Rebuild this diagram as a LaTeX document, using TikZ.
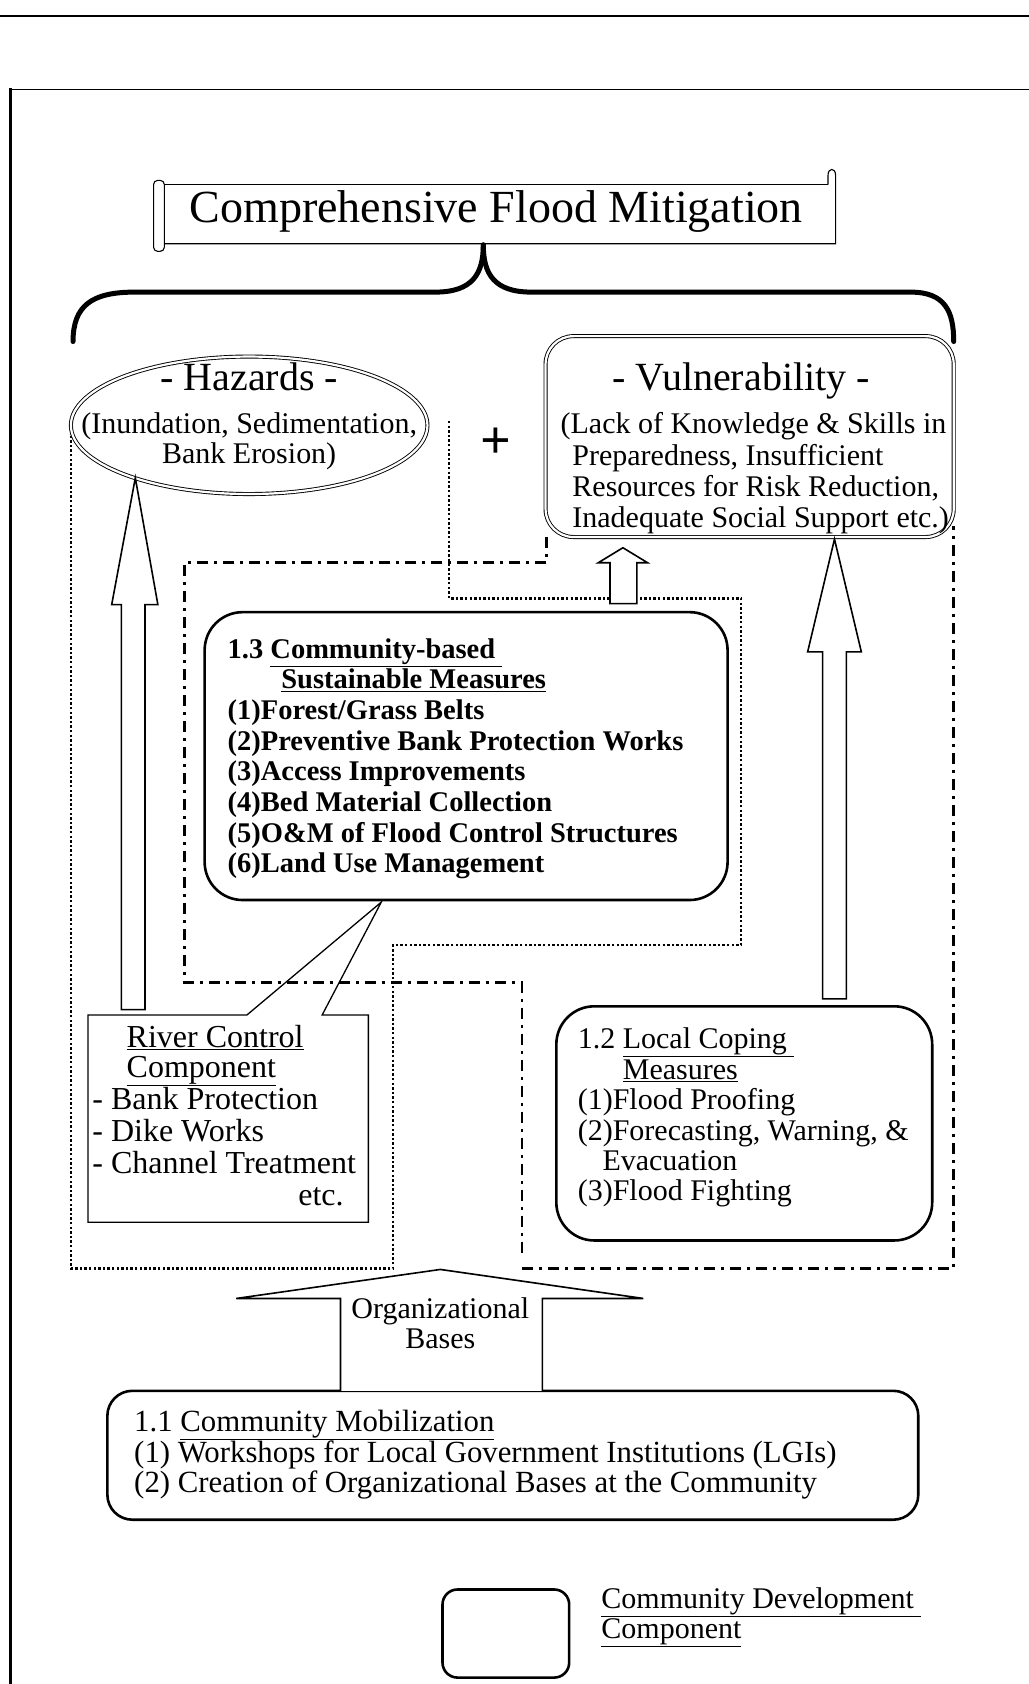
\documentclass[tikz,border=0pt]{standalone}
\usepackage{fontspec}
\setmainfont{Liberation Serif}
\usetikzlibrary{shapes.geometric}
\begin{document}
\begin{tikzpicture}[x=1.0741pt, y=-1.0741pt,
  every node/.style={inner sep=0pt, outer sep=0pt},
  body/.style={font=\fontsize{30}{32}\selectfont, text height=21pt, text depth=6pt},
  lft/.style={body, anchor=west},
  cen/.style={body, anchor=center},
  wide/.style={font=\fontsize{30.8}{32}\selectfont, text height=21pt, text depth=6pt, anchor=west},
  bld/.style={font=\fontsize{28.5}{30}\selectfont\bfseries, text height=20pt, text depth=6pt, anchor=west},
  river/.style={font=\fontsize{32}{34}\selectfont, text height=22pt, text depth=7pt, anchor=west},
  head/.style={font=\fontsize{40}{42}\selectfont, text height=28pt, text depth=8pt, anchor=center},
  thickbox/.style={draw, line width=2.6pt, rounded corners=38pt},
  dblline/.style={draw, double, double distance=2.2pt, line width=0.9pt},
  hollow/.style={draw, line width=1.6pt, fill=white, line join=miter},
  dotreg/.style={line width=2.6pt, dash pattern=on 2.4pt off 2.2pt},
  dashreg/.style={line width=2.7pt, dash pattern=on 11pt off 6pt on 3pt off 6pt},
  bracestroke/.style={line width=5pt, line cap=round},
]
\useasboundingbox (0,0) rectangle (958,1568);

% page frame
\draw[line width=2.5pt] (0,15) -- (958,15);
\draw[line width=1.2pt] (8,83) -- (958,83);
\draw[line width=2.8pt] (10,82) -- (10,1568);

% title scroll
\node (title) [font=\fontsize{46}{48}\selectfont] at (462,197) {Comprehensive Flood Mitigation};
\draw[line width=1.1pt] (153,172) -- (771,172);
\draw[line width=1.1pt] (153,227) -- (778,227) -- (778,163) .. controls (778,156) and (771,156) .. (771,163) -- (771,172);
\draw[line width=1.1pt, rounded corners=4pt] (143,168) rectangle (153,234);

% brace under the title
\coordinate (bl) at (68,318);
\coordinate (bm) at (450,228);
\coordinate (br) at (888,318);
\draw[bracestroke] (bl) .. controls (68,285) and (85,272) .. (125,272) -- (405,272) .. controls (440,272) and (450,255) .. (bm);
\draw[bracestroke] (bm) .. controls (450,255) and (460,272) .. (495,272) -- (848,272) .. controls (880,272) and (888,290) .. (br);

% region outlines
\draw[dotreg] (418,392) -- (418,557) -- (690,557) -- (690,880) -- (366,880) -- (366,1181) -- (66,1181) -- (66,398);
\draw[dashreg] (509,500) -- (509,524) -- (172,524) -- (172,915) -- (486,915) -- (486,1168);
\draw[dashreg] (486,1181) -- (888,1181) -- (888,490);

% hazards
\node (haz) [dblline, ellipse, minimum width=356.6pt, minimum height=137.5pt] at (232,396) {};
\node (hazh) [head] at (232,354) {- Hazards -};
\node (haz1) [cen] at (232,397) {(Inundation, Sedimentation,};
\node (haz2) [cen] at (232,425) {Bank Erosion)};

\node (plus) [font=\fontsize{54}{54}\selectfont\bfseries] at (462,413) {+};

% vulnerability
\node (vul) [dblline, rounded corners=28pt, minimum width=408.2pt, minimum height=200.9pt] at (698,406.5) {};
\node (vulh) [head] at (690,354) {- Vulnerability -};
\node (vul1) [lft] at (522,397) {(Lack of Knowledge \& Skills in};
\node (vul2) [lft] at (533,426) {Preparedness, Insufficient};
\node (vul3) [lft] at (533,455) {Resources for Risk Reduction,};
\node (vul4) [lft] at (533,484) {Inadequate Social Support etc.)};

% 1.3 community-based measures
\node (b13) [thickbox, minimum width=523pt, minimum height=287.9pt] at (434,704) {};
\node (t13a) [bld] at (212,607) {1.3 \underline{Community-based\ }};
\node (t13b) [bld] at (262,635) {\underline{Sustainable Measures}};
\node (t13c) [bld] at (212,663) {(1)Forest/Grass Belts};
\node (t13d) [bld] at (212,692) {(2)Preventive Bank Protection Works};
\node (t13e) [bld] at (212,720) {(3)Access Improvements};
\node (t13f) [bld] at (212,749) {(4)Bed Material Collection};
\node (t13g) [bld] at (212,778) {(5)O\&M of Flood Control Structures};
\node (t13h) [bld] at (212,806) {(6)Land Use Management};

% river control component with callout
\coordinate (cp) at (355,840);
\draw[line width=1.3pt] (82,945) -- (230,945) -- (cp) -- (300,945) -- (343,945) -- (343,1138) -- (82,1138) -- cycle;
\node (rc1) [river] at (118,968) {\underline{River Control}};
\node (rc2) [river] at (118,996) {\underline{Component}};
\node (rc3) [river] at (86,1026) {- Bank Protection};
\node (rc4) [river] at (86,1056) {- Dike Works};
\node (rc5) [river] at (86,1086) {- Channel Treatment};
\node (rc6) [river, anchor=east] at (320,1115) {etc.};

% 1.2 local coping measures
\node (b12) [thickbox, minimum width=375.9pt, minimum height=234.2pt] at (693,1046) {};
\node (t12a) [lft] at (538,969) {1.2 \underline{Local Coping\ }};
\node (t12b) [lft] at (580,998) {\underline{Measures}};
\node (t12c) [lft] at (538,1026) {(1)Flood Proofing};
\node (t12d) [lft] at (538,1055) {(2)Forecasting, Warning, \&};
\node (t12e) [lft] at (561,1083) {Evacuation};
\node (t12f) [lft] at (538,1111) {(3)Flood Fighting};

% 1.1 community mobilization
\node (b11) [thickbox, rounded corners=25pt, minimum width=811pt, minimum height=128.9pt] at (477.5,1355) {};
\node (t11a) [wide] at (125,1326) {1.1 \underline{Community Mobilization}};
\node (t11b) [wide] at (125,1355) {(1) Workshops for Local Government Institutions (LGIs)};
\node (t11c) [wide] at (125,1383) {(2) Creation of Organizational Bases at the Community};

% hollow arrows
\draw[hollow] (113,940) -- (113,563) -- (104,563) -- (126,445) -- (147,563) -- (135,563) -- (135,940) -- cycle;
\draw[hollow] (766,930) -- (766,607) -- (752,607) -- (777,502) -- (802,607) -- (788,607) -- (788,930) -- cycle;
\draw[hollow] (568,562) -- (568,524) -- (557,524) -- (580,510) -- (603,524) -- (593,524) -- (593,562) -- cycle;
\draw[hollow] (317,1295) -- (317,1209) -- (220,1209) -- (410,1182) -- (599,1209) -- (505,1209) -- (505,1295);
\node (org1) [cen] at (410,1221) {Organizational};
\node (org2) [cen] at (410,1249) {Bases};

% legend
\node (leg) [thickbox, rounded corners=15pt, minimum width=126.7pt, minimum height=88.1pt] at (471,1521) {};
\node (leg1) [lft] at (560,1491) {\underline{Community Development\ }};
\node (leg2) [lft] at (560,1519) {\underline{Component}};
\end{tikzpicture}
\end{document}
